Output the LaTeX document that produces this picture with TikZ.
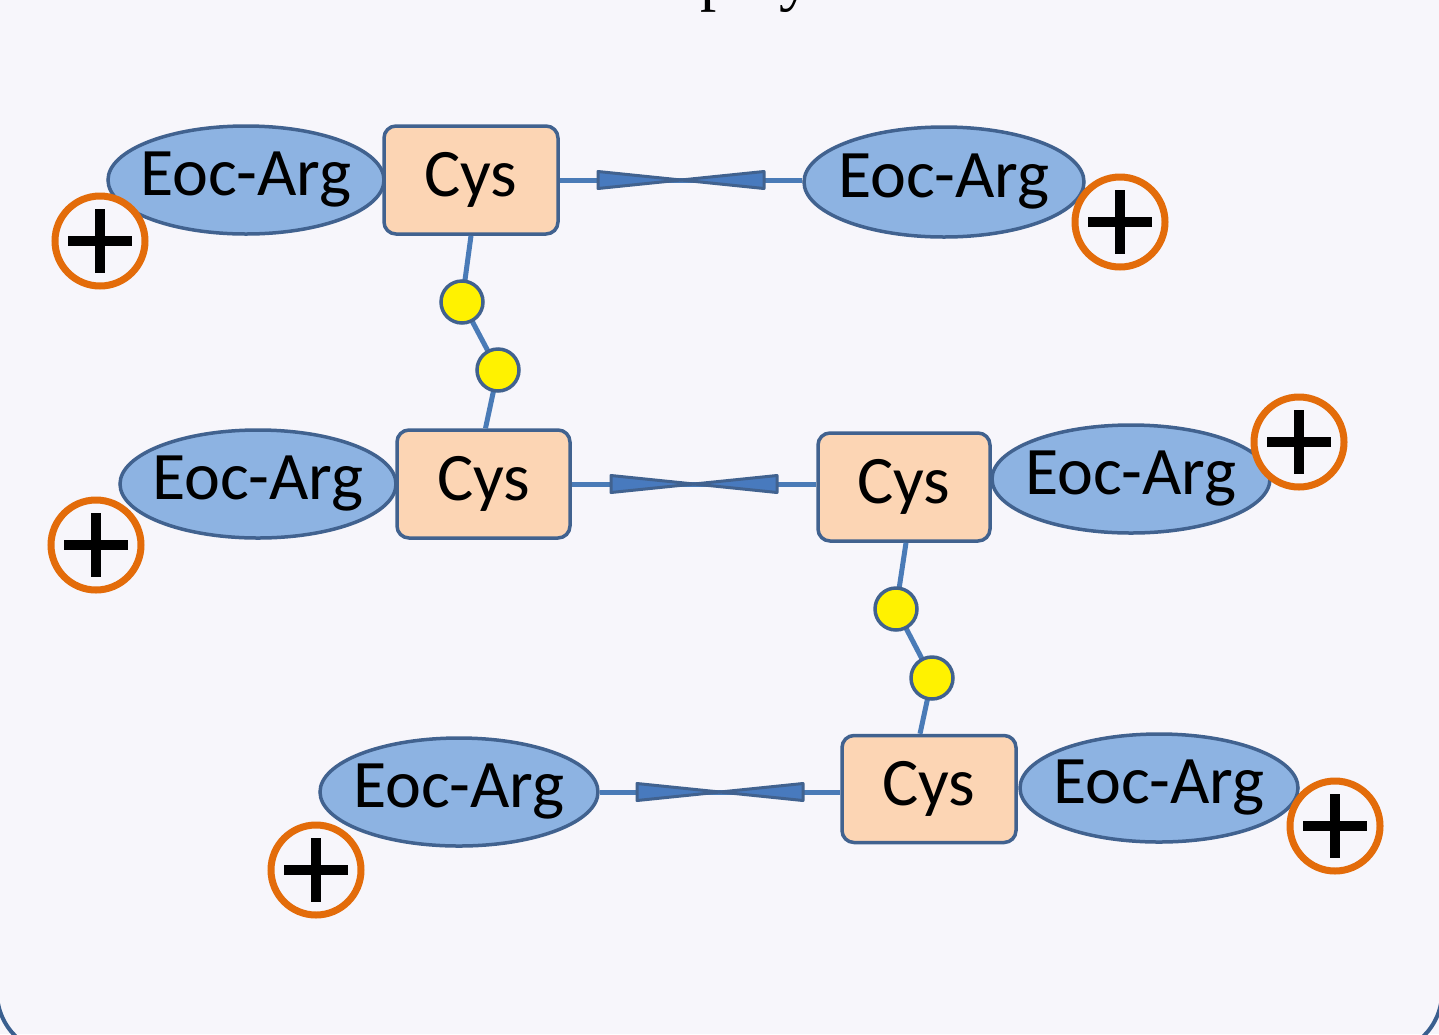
\documentclass[tikz,border=0pt]{standalone}
\usepackage{fontspec}
\setmainfont{Carlito}
\newfontfamily\titlefont{Liberation Serif}
\usetikzlibrary{shapes.geometric,calc}
\definecolor{bg}{RGB}{247,246,251}
\definecolor{frame}{RGB}{58,95,143}
\definecolor{edge}{RGB}{65,98,143}
\definecolor{argfill}{RGB}{141,179,226}
\definecolor{cysfill}{RGB}{252,213,180}
\definecolor{linkc}{RGB}{74,123,183}
\definecolor{bowfill}{RGB}{72,122,190}
\definecolor{ring}{RGB}{227,108,10}
\tikzset{
  arg/.style={ellipse,draw=edge,fill=argfill,line width=3.5,inner xsep=-15,inner ysep=0,minimum width=276,minimum height=108,font=\fontsize{68}{80}\selectfont},
  cys/.style={rectangle,rounded corners=12,draw=edge,fill=cysfill,line width=3.5,inner sep=0,minimum width=174,minimum height=108,font=\fontsize{68}{80}\selectfont},
  bead/.style={circle,draw=edge,fill=yellow,line width=3.5,inner sep=0,minimum size=42},
  plusc/.style={circle,draw=ring,fill=bg,line width=7,inner sep=0,minimum size=90,
    path picture={\draw[black,line width=10] ($(path picture bounding box.center)+(-32,0)$) -- ++(64,0);
                  \draw[black,line width=10] ($(path picture bounding box.center)+(0,-32)$) -- ++(0,64);}},
  link/.style={draw=linkc,line width=5},
  bow/.style={draw=edge,fill=bowfill,line width=3,line join=round}
}
\newcommand{\mybowtie}[1]{%
  \path[bow] ($(#1)+(-83,-8.5)$) -- ($(#1)+(-83,8.5)$) -- (#1) -- cycle;
  \path[bow] ($(#1)+(83,-8.5)$) -- ($(#1)+(83,8.5)$) -- (#1) -- cycle;}
\begin{document}
\begin{tikzpicture}[x=1pt,y=-1pt]
\useasboundingbox (0,0) rectangle (1439,1034);
\fill[bg] (0,0) rectangle (1439,1034);
\draw[frame,line width=4,rounded corners=62] (-3,-300) rectangle (1442,1054);
\node[font=\titlefont\fontsize{65}{70}\selectfont,anchor=base west,inner sep=0] (title) at (700,-2) {play};

% row 1
\node[arg] (e1) at (246,180) {Eoc-Arg};
\node[cys] (c1) at (471,180) {Cys};
\node[arg,minimum width=280,minimum height=110] (e2) at (944,182) {Eoc-Arg};
\draw[link] (c1.east) -- (c1.east -| e2.west) coordinate[midway] (m1);
\mybowtie{m1}
\node[plusc] (p0) at (100,241) {};
\node[plusc] (p1) at (1120,222) {};

% row 2
\node[arg] (e3) at (258,484) {Eoc-Arg};
\node[cys,minimum width=173] (c2) at (483.5,484) {Cys};
\node[cys,minimum width=172] (c3) at (904,487) {Cys};
\node[arg,minimum width=278] (e4) at (1131,479) {Eoc-Arg};
\draw[link] (c2.east) -- (c2.east -| c3.west) coordinate[midway] (m2);
\mybowtie{m2}
\node[plusc] (p2) at (96,545) {};
\node[plusc] (p3) at (1299,442) {};

% row 3
\node[arg,minimum width=278] (e5) at (459,792) {Eoc-Arg};
\node[cys,minimum height=107] (c4) at (929,789) {Cys};
\node[arg,minimum width=278] (e6) at (1159,788) {Eoc-Arg};
\draw[link] (e5.east) -- (e5.east -| c4.west) coordinate[midway] (m3);
\mybowtie{m3}
\node[plusc] (p4) at (1335,826) {};
\node[plusc] (p5) at (316,870) {};

% disulfide bridges
\coordinate (b1) at (462,302);
\coordinate (b2) at (498,370);
\draw[link] (c1.south) -- (b1) -- (b2) -- ($(c2.north)+(2,0)$);
\node[bead] (n1) at (b1) {};
\node[bead] (n2) at (b2) {};
\coordinate (b3) at (896,609);
\coordinate (b4) at (932,678);
\draw[link] ($(c3.south)+(2,0)$) -- (b3) -- (b4) -- ($(c4.north)+(-9,0)$);
\node[bead] (n3) at (b3) {};
\node[bead] (n4) at (b4) {};
\end{tikzpicture}
\end{document}
